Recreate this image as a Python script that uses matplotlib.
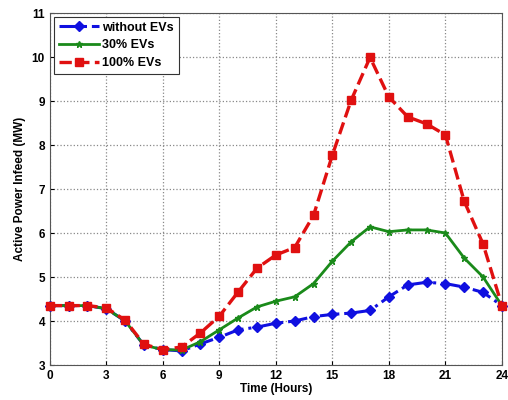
import matplotlib
matplotlib.use("Agg")
import matplotlib.pyplot as plt

hours = list(range(25))
without_evs = [4.35, 4.35, 4.35, 4.28, 4.0, 3.45, 3.35, 3.32, 3.48, 3.63, 3.8, 3.86, 3.95,
               4.0, 4.1, 4.15, 4.18, 4.24, 4.55, 4.82, 4.88, 4.85, 4.77, 4.65, 4.35]
evs_30 = [4.35, 4.35, 4.35, 4.28, 4.0, 3.45, 3.35, 3.34, 3.53, 3.8, 4.07, 4.32, 4.45,
          4.55, 4.85, 5.36, 5.8, 6.14, 6.03, 6.07, 6.07, 6.0, 5.43, 5.0, 4.35]
evs_100 = [4.35, 4.35, 4.35, 4.3, 4.02, 3.47, 3.35, 3.41, 3.73, 4.11, 4.66, 5.2, 5.5,
           5.67, 6.4, 7.77, 9.02, 9.99, 9.09, 8.64, 8.48, 8.23, 6.72, 5.75, 4.35]
labels = ["without EVs", "30% EVs", "100% EVs"]
xticks = [0, 3, 6, 9, 12, 15, 18, 21, 24]
yticks = [3, 4, 5, 6, 7, 8, 9, 10, 11]

plt.rcParams['font.family'] = ['Liberation Sans', 'DejaVu Sans']
fig = plt.figure(figsize=(5.08, 4.0), dpi=100)
ax = fig.add_axes([0.098, 0.0875, 0.890, 0.88])

ax.plot(hours, without_evs, color='#1010e0', linestyle='-.', linewidth=2.2,
        marker='D', markersize=5, markerfacecolor='#1010e0', label=labels[0],
        zorder=3, clip_on=False)
ax.plot(hours, evs_30, color='#1a8a1a', linestyle='-', linewidth=2.0,
        marker='*', markersize=5, label=labels[1], zorder=4, clip_on=False)
ax.plot(hours, evs_100, color='#e01010', linestyle='--', linewidth=2.4,
        marker='s', markersize=6, markerfacecolor='#e01010', label=labels[2],
        zorder=5, clip_on=False)

ax.set_xlim(0, 24)
ax.set_ylim(3, 11)
ax.set_xticks(xticks)
ax.set_yticks(yticks)
ax.tick_params(direction='in', labelsize=8.5, length=3)
for t in ax.get_xticklabels() + ax.get_yticklabels():
    t.set_fontweight('bold')
ax.grid(True, linestyle=':', color='#888888', linewidth=0.9)
ax.set_xlabel('Time (Hours)', fontsize=8.5, fontweight='bold', labelpad=1)
ax.set_ylabel('Active Power Infeed (MW)', fontsize=8.5, fontweight='bold', labelpad=4)
for s in ax.spines.values():
    s.set_color('#555555')
leg = ax.legend(loc='upper left', prop={'weight': 'bold', 'size': 9},
                fancybox=False, edgecolor='#333333', framealpha=1, borderpad=0.4,
                labelspacing=0.45, handlelength=3.2, handletextpad=0.3,
                borderaxespad=0.3)
leg.get_frame().set_linewidth(0.8)
fig.savefig('out.png', dpi=100)
